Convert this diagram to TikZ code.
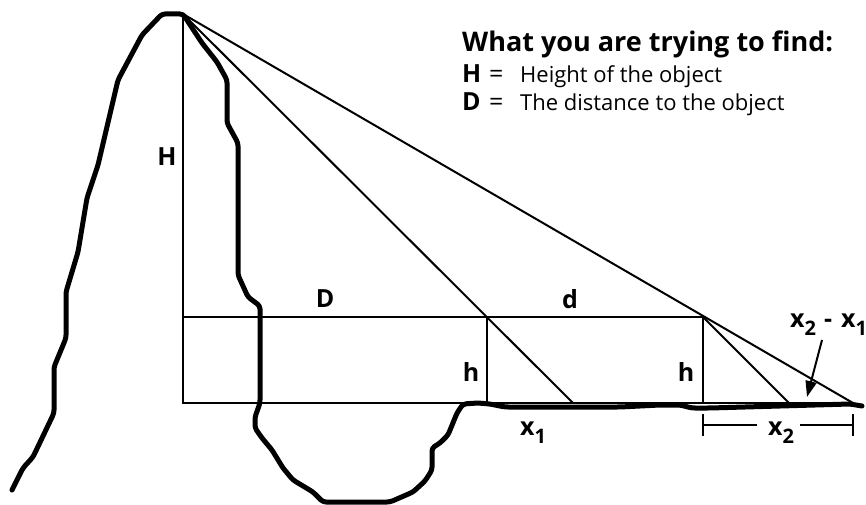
\documentclass[tikz,border=0pt]{standalone}
\usepackage{fontspec}
\setmainfont{Open Sans}
\usetikzlibrary{arrows.meta}
\newcommand{\sbs}[1]{\raisebox{-8pt}{\fontsize{20}{24}\selectfont #1}}
\newcommand{\legkey}[1]{\makebox[27pt][l]{\fontsize{25}{28}\selectfont\bfseries #1}\makebox[31pt][l]{\fontsize{25}{28}\selectfont =}}
\begin{document}
\begin{tikzpicture}[x=1pt,y=-1pt,
  thinline/.style={line width=2pt, line cap=butt, line join=miter},
  outline/.style={line width=5pt, line cap=round, line join=round, rounded corners=3pt},
  lab/.style={font=\fontsize{25}{30}\selectfont\bfseries, inner sep=0pt},
  heading/.style={font=\fontsize{27}{32}\selectfont\bfseries, inner sep=0pt, anchor=base west},
  legend/.style={font=\fontsize{22}{26}\selectfont, inner sep=0pt, anchor=base west},
  dimbar/.style={line width=2pt}]
\useasboundingbox (0,0) rectangle (866,505);

% key points of the construction
\coordinate (apex) at (183,14);
\coordinate (Hfoot) at (183,403);
\coordinate (Dleft) at (183,317);
\coordinate (p1) at (487,317);
\coordinate (p2) at (703,317);
\coordinate (q1) at (487,403);
\coordinate (q2) at (703,403);
\coordinate (g1) at (573,403);
\coordinate (g2) at (789,403);
\coordinate (g3) at (853,403);

% mountain and ground profile
\draw[outline] (12,490) -- (23,468) -- (33,457) -- (54,413) -- (54,367) -- (66,338)
  -- (66,292) -- (78,252) -- (87,198) -- (98,165) -- (118,80) -- (142,35) -- (162,14)
  -- (apex) -- (202,43) -- (217,62) -- (227,80) -- (227,123) -- (238,143) -- (238,275)
  -- (248,297) -- (260,306) -- (260,403) -- (255,417) -- (255,428) -- (262,438)
  -- (272,450) -- (283,468) -- (293,480) -- (313,492) -- (323,502) -- (390,502)
  -- (413,492) -- (425,481) -- (432,470) -- (432,448) -- (440,443) -- (448,435)
  -- (457,413) -- (463,404) -- (478,403) -- (490,404) -- (505,407) -- (620,407)
  -- (660,405) -- (680,405) -- (692,408) -- (710,408) -- (780,406) -- (850,404)
  -- (862,406);

% measuring lines
\draw[thinline] (apex) -- (Hfoot) -- (g3);
\draw[thinline] (Dleft) -- (p2) -- (q2);
\draw[thinline] (p1) -- (q1);
\draw[thinline] (apex) -- (g1);
\draw[thinline] (apex) -- (g3);
\draw[thinline] (p2) -- (g2);

% labels
\node[lab] (Hlab) at (167,157) {H};
\node[lab] (Dlab) at (325,299) {D};
\node[lab] (dlab) at (570,299) {d};
\node[lab] (h1lab) at (471,372) {h};
\node[lab] (h2lab) at (686,372) {h};
\node[lab, anchor=base west] (x1lab) at (520,435) {x\sbs{1}};
\node[lab, anchor=base west] (x2lab) at (768,435) {x\sbs{2}};
\node[lab, anchor=base west] (difflab) at (790,327) {x\sbs{2}\hspace{8pt}-\hspace{9pt}x\sbs{1}};

% dimension x2
\coordinate (bl) at (703,425);
\coordinate (br) at (853,425);
\draw[dimbar] (703,414) -- (703,436);
\draw[dimbar] (853,414) -- (853,436);
\draw[dimbar] (bl) -- (757,425);
\draw[dimbar] (800,425) -- (br);

% pointer to the difference
\coordinate (ptip) at (807,397);
\draw[line width=2pt, -{Triangle[length=16pt,width=11pt]}] (822,340) -- (ptip);

% legend
\node[heading] (head) at (462,52) {What you are trying to find:};
\node[legend] (leg1) at (462,83) {\legkey{H}Height of the object};
\node[legend] (leg2) at (462,111) {\legkey{D}The distance to the object};
\end{tikzpicture}
\end{document}
